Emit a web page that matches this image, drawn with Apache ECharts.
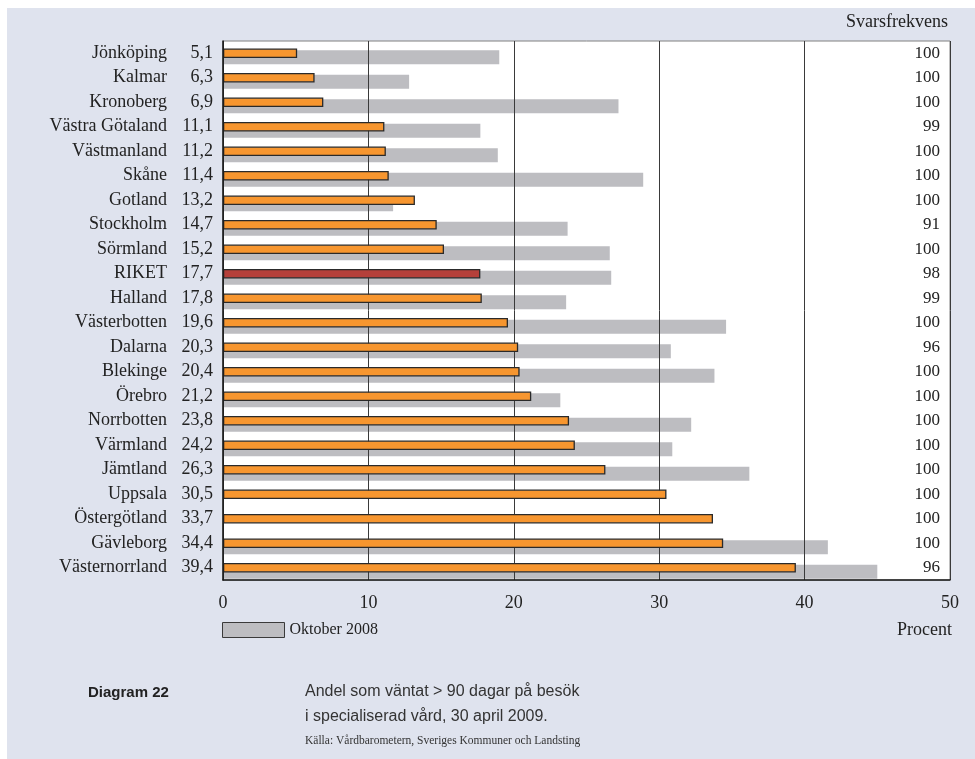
<!DOCTYPE html>
<html>
<head>
<meta charset="utf-8">
<script src="https://cdn.jsdelivr.net/npm/echarts@6/dist/echarts.min.js"></script>
<style>
html,body{margin:0;padding:0;background:#fff;}
#bg{position:absolute;left:7px;top:8px;width:968px;height:751px;background:#dfe3ee;}
#chart{width:968px;height:751px;}
</style>
</head>
<body>
<div id="bg"><div id="chart"></div></div>
<script>
const categories = ['Jönköping','Kalmar','Kronoberg','Västra Götaland','Västmanland','Skåne','Gotland','Stockholm','Sörmland','RIKET','Halland','Västerbotten','Dalarna','Blekinge','Örebro','Norrbotten','Värmland','Jämtland','Uppsala','Östergötland','Gävleborg','Västernorrland'];
const values2009 = [5.1,6.3,6.9,11.1,11.2,11.4,13.2,14.7,15.2,17.7,17.8,19.6,20.3,20.4,21.2,23.8,24.2,26.3,30.5,33.7,34.4,39.4];
const october2008 = [19.0,12.8,27.2,17.7,18.9,28.9,11.7,23.7,26.6,26.7,23.6,34.6,30.8,33.8,23.2,32.2,30.9,36.2,null,null,41.6,45.0];
const responseRate = [100,100,100,99,100,100,100,91,100,98,99,100,96,100,100,100,100,100,100,100,100,96];
const xTicks = [0,10,20,30,40,50];
const highlight = 'RIKET';

const SERIF = '"Liberation Serif", "Times New Roman", serif';
const SANS = '"Liberation Sans", Arial, sans-serif';
const fmt = v => v.toFixed(1).replace('.', ',');

const chart = echarts.init(document.getElementById('chart'), null, {renderer: 'canvas'});

const gridTop = 33, gridH = 539;
const option = {
  animation: false,
  grid: [
    {left: 216, right: 25, top: gridTop, height: gridH, show: true, backgroundColor: '#ffffff', borderColor: '#808080', borderWidth: 1},
    {left: 216, right: 25, top: gridTop + 4, height: gridH, show: false}
  ],
  legend: {
    left: 210, top: 609,
    icon: 'rect', itemWidth: 62, itemHeight: 15, itemGap: 8,
    data: ['Oktober 2008'],
    itemStyle: {color: '#bdbdc1', borderColor: '#3a3a3a', borderWidth: 1},
    textStyle: {fontFamily: SERIF, fontSize: 16, color: '#222'}
  },
  xAxis: [
    {
      gridIndex: 0, type: 'value', min: xTicks[0], max: xTicks[xTicks.length - 1], interval: 10, z: 2,
      axisLine: {show: true, lineStyle: {color: '#1a1a1a', width: 1.5}},
      axisTick: {show: false},
      splitLine: {show: true, lineStyle: {color: '#3a3a3a', width: 1}},
      axisLabel: {fontFamily: SERIF, fontSize: 18, color: '#222', margin: 14}
    },
    {gridIndex: 1, type: 'value', min: xTicks[0], max: xTicks[xTicks.length - 1], show: false}
  ],
  yAxis: [
    {
      gridIndex: 0, type: 'category', inverse: true, data: categories, z: 4,
      axisLine: {show: true, lineStyle: {color: '#1a1a1a', width: 1.5}},
      axisTick: {show: false},
      axisLabel: {
        margin: 10, color: '#222',
        formatter: (name) => '{n|' + name + '}{v|' + fmt(values2009[categories.indexOf(name)]) + '}',
        rich: {
          n: {fontFamily: SERIF, fontSize: 18, color: '#222', padding: [0, 3, 0, 0]},
          v: {fontFamily: SERIF, fontSize: 18, color: '#222', width: 43, align: 'right'}
        }
      }
    },
    {
      gridIndex: 0, type: 'category', inverse: true, position: 'right',
      data: responseRate.map(String),
      axisLine: {show: false}, axisTick: {show: false},
      axisLabel: {inside: true, margin: 10, fontFamily: SERIF, fontSize: 17, color: '#222'}
    },
    {gridIndex: 1, type: 'category', inverse: true, data: categories, show: false}
  ],
  series: [
    {
      name: 'Oktober 2008', type: 'bar', xAxisIndex: 1, yAxisIndex: 2, z: 1,
      barWidth: 14, data: october2008,
      itemStyle: {color: '#bdbdc1'}
    },
    {
      name: 'April 2009', type: 'bar', xAxisIndex: 0, yAxisIndex: 0, z: 3,
      barWidth: 9.5,
      data: values2009.map((v, i) => categories[i] === highlight
        ? {value: v, itemStyle: {color: '#b5403a'}} : v),
      itemStyle: {color: '#f7962f', borderColor: '#2a2a2a', borderWidth: 1.3}
    }
  ],
  graphic: [
    {type: 'text', right: 27, top: 5, style: {text: 'Svarsfrekvens', font: '18px ' + SERIF, fill: '#222'}},
    {type: 'text', right: 23, top: 613, style: {text: 'Procent', font: '18px ' + SERIF, fill: '#222'}},
    {type: 'text', left: 81, top: 677, style: {text: 'Diagram 22', font: 'bold 15px ' + SANS, fill: '#222'}},
    {type: 'text', left: 298, top: 676, style: {text: 'Andel som väntat > 90 dagar på besök', font: '16px ' + SANS, fill: '#333'}},
    {type: 'text', left: 298, top: 701, style: {text: 'i specialiserad vård, 30 april 2009.', font: '16px ' + SANS, fill: '#333'}},
    {type: 'text', left: 298, top: 727, style: {text: 'Källa: Vårdbarometern, Sveriges Kommuner och Landsting', font: '11.5px ' + SERIF, fill: '#333'}}
  ]
};
chart.setOption(option);
</script>
</body>
</html>
